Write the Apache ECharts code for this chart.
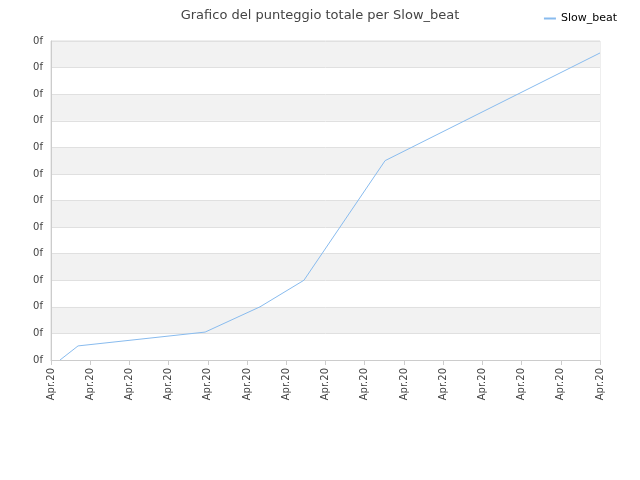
<!DOCTYPE html>
<html><head><meta charset="utf-8">
<script src="https://cdn.jsdelivr.net/npm/echarts@6/dist/echarts.min.js"></script>
<style>html,body{margin:0;padding:0}#c{width:640px;height:480px}</style></head>
<body><div id="c"></div>
<script>
const xPos = [0.23, 0.69, 3.93, 5.33, 6.45, 8.52, 14];
const scores = [0, 0.53, 1.05, 2.0, 3.0, 7.5, 11.55];
const xLabel = 'Apr.20';
const yLabel = '0f';
const chart = echarts.init(document.getElementById('c'));
chart.setOption({
  title: {text: 'Grafico del punteggio totale per Slow_beat', left: 'center', top: 4,
    textStyle: {fontSize: 13, fontWeight: 'normal', color: '#444', fontFamily: 'DejaVu Sans'}},
  legend: {right: 18, top: 8, itemWidth: 12, itemHeight: 2, icon: 'rect',
    textStyle: {fontSize: 11, color: '#000', fontFamily: 'DejaVu Sans'}, data: ['Slow_beat']},
  grid: {left: 51, right: 40, top: 41, bottom: 120, show: true, borderColor: '#ddd', borderWidth: 1},
  xAxis: {type: 'value', min: 0, max: 14, interval: 1,
    axisLine: {lineStyle: {color: '#ccc'}}, axisTick: {show: true, lineStyle: {color: '#ccc'}},
    splitLine: {show: false},
    axisLabel: {rotate: 90, formatter: () => xLabel, color: '#444', fontSize: 10, fontFamily: 'DejaVu Sans'}},
  yAxis: {type: 'value', min: 0, max: 12, interval: 1,
    axisLine: {show: true, lineStyle: {color: '#ccc'}}, axisTick: {show: false},
    splitLine: {lineStyle: {color: '#e0e0e0'}},
    splitArea: {show: true, areaStyle: {color: ['#ffffff', '#f2f2f2']}},
    axisLabel: {formatter: () => yLabel, color: '#444', fontSize: 10, fontFamily: 'DejaVu Sans'}},
  series: [{name: 'Slow_beat', type: 'line', showSymbol: false, symbol: 'none',
    lineStyle: {color: '#88bbee', width: 1}, itemStyle: {color: '#88bbee'},
    data: xPos.map((x, i) => [x, scores[i]])}]
});
</script></body></html>
